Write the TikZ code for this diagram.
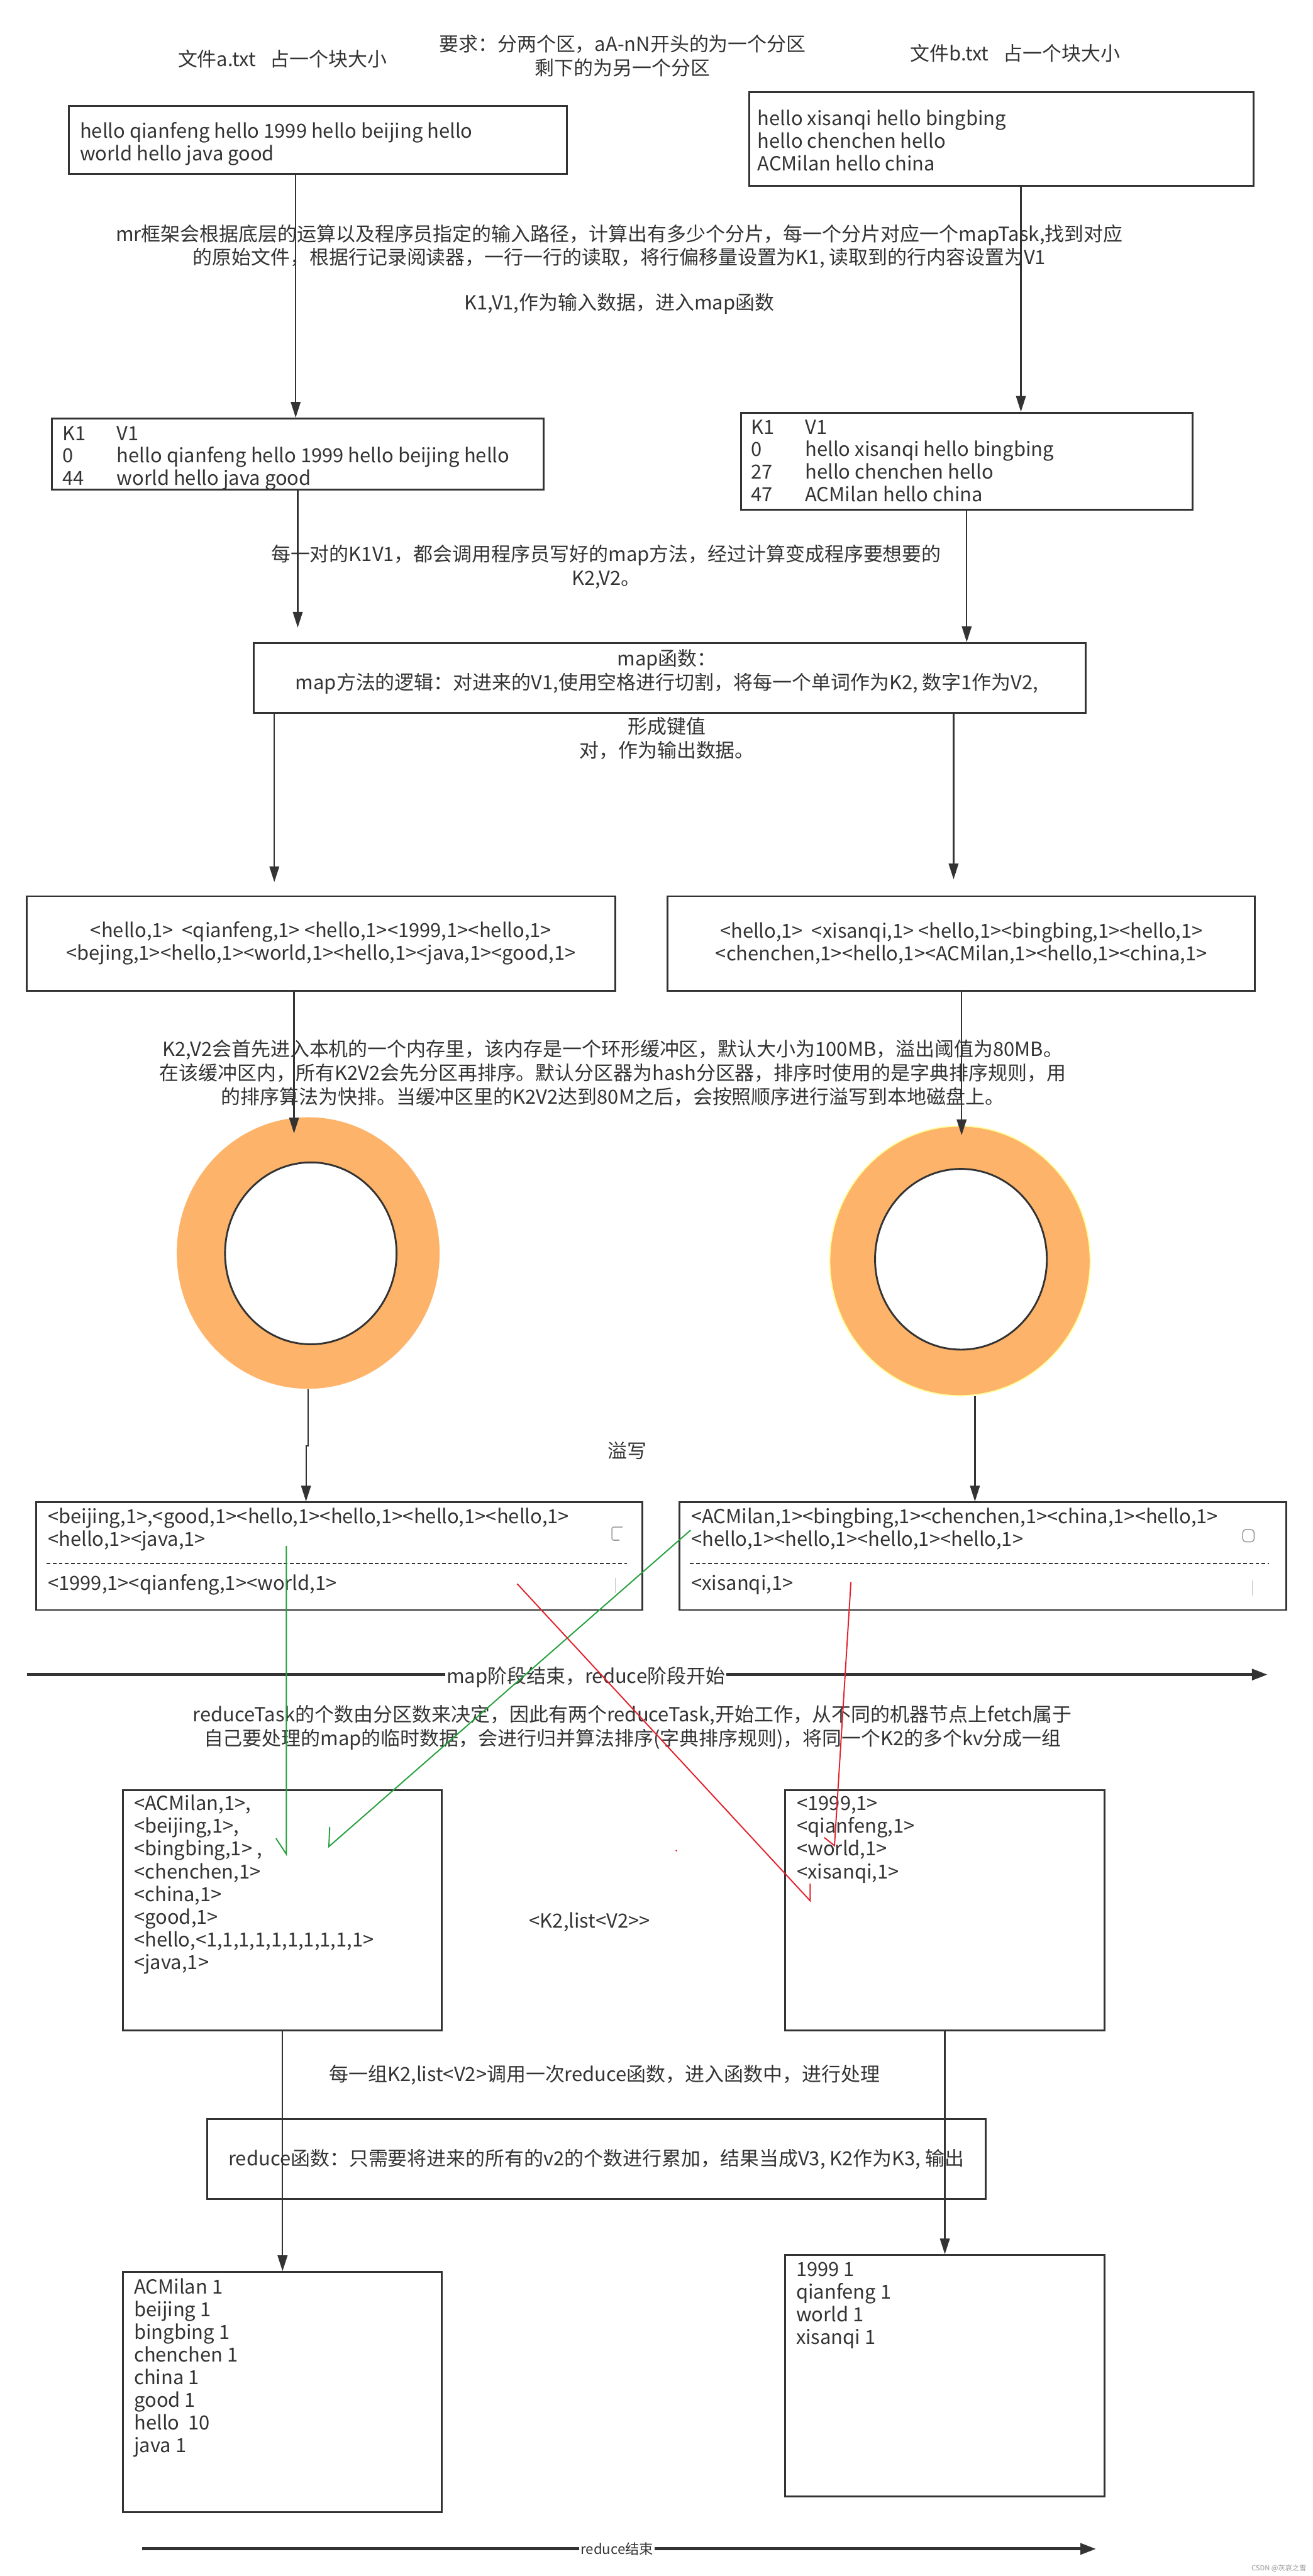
\documentclass[tikz,border=0pt]{standalone}
\usepackage{fontspec}
\setmainfont{Noto Sans CJK SC}
\usetikzlibrary{arrows.meta,positioning,calc,shapes.geometric}
\definecolor{mrink}{HTML}{333333}
\definecolor{mrorange}{HTML}{FDB46A}
\definecolor{mrpale}{HTML}{FFFF99}
\definecolor{mrgreen}{HTML}{22A03C}
\definecolor{mrred}{HTML}{E3202A}
\definecolor{mrmute}{HTML}{9A9A9A}
\newcommand\upx{1.3507pt}
\tikzset{
  box/.style={draw=mrink, line width=1.5pt, inner sep=0pt, align=center, text=mrink, font=\fontsize{16}{18.7}\selectfont},
  frm/.style 2 args={box, minimum width=#1*\upx, minimum height=#2*\upx},
  txt/.style={align=center, inner sep=0pt, text=mrink, font=\fontsize{16}{19.6}\selectfont},
  kvrow/.style={anchor=base west, inner sep=0pt, text=mrink, font=\fontsize{16}{18.7}\selectfont},
  arr/.style={-{Triangle[length=13pt,width=8pt]}, line width=1.2pt, draw=mrink},
  stage/.style={-{Triangle[length=13pt,width=9pt]}, line width=2.6pt, draw=mrink},
  plbl/.style={fill=white, inner xsep=1pt, inner ysep=1pt, text=mrink},
  ringout/.style={ellipse, fill=mrorange, inner sep=0pt},
  ringin/.style={ellipse, draw=mrink, line width=1.5pt, fill=white, inner sep=0pt},
  cutline/.style={draw=mrink, line width=1.1pt, dash pattern=on 3pt off 2pt},
  grn/.style={draw=mrgreen, line width=1pt},
  rd/.style={draw=mrred, line width=1pt},
  icon/.style={draw=mrmute, line width=0.8pt},
}
\begin{document}
\begin{tikzpicture}[x=\upx, y=-\upx]
\useasboundingbox (0,0) rectangle (799,1568);

% input files
\node[txt] (fna) at (172,36) {文件a.txt\hspace{0.75em}占一个块大小};
\node[txt] (req) at (379,34) {要求：分两个区，aA-nN开头的为一个分区\\剩下的为另一个分区};
\node[txt] (fnb) at (618,32.5) {文件b.txt\hspace{0.75em}占一个块大小};

\node[frm={303}{41.5}] (fa) at (193.5,85.25) {};
\foreach \t [count=\i from 0] in {hello qianfeng hello 1999 hello beijing hello, world hello java good}
  \node[kvrow] (fa\i) at (48.5,84+13.8*\i) {\t};
\node[frm={307}{57}] (fb) at (609.5,84.5) {};
\foreach \t [count=\i from 0] in {hello xisanqi hello bingbing, hello chenchen hello, ACMilan hello china}
  \node[kvrow] (fb\i) at (461,76.5+13.75*\i) {\t};

\node[txt] (split) at (377,150) {mr框架会根据底层的运算以及程序员指定的输入路径，计算出有多少个分片，每一个分片对应一个mapTask,找到对应\\的原始文件，根据行记录阅读器，一行一行的读取，将行偏移量设置为K1, 读取到的行内容设置为V1};
\node[txt] (kvin) at (377,185) {K1,V1,作为输入数据，进入map函数};

% K1 V1
\node[frm={299.5}{43.2}] (ka) at (181.25,276.4) {};
\foreach \k/\v [count=\i from 0] in {K1/V1, 0/hello qianfeng hello 1999 hello beijing hello, 44/world hello java good} {
  \node[kvrow] (kak\i) at (38,268.1+13.55*\i) {\k};
  \node[kvrow] (kav\i) at (71,268.1+13.55*\i) {\v};
}
\node[frm={275}{59.2}] (kb) at (588.5,280.8) {};
\foreach \k/\v [count=\i from 0] in {K1/V1, 0/hello xisanqi hello bingbing, 27/hello chenchen hello, 47/ACMilan hello china} {
  \node[kvrow] (kbk\i) at (457,264.2+13.7*\i) {\k};
  \node[kvrow] (kbv\i) at (490,264.2+13.7*\i) {\v};
}
\draw[arr] (fa.south -| 180,0) -- (ka.north -| 180,0);
\draw[arr] (fb.south -| 621.5,0) -- (kb.north -| 621.5,0);

% map function
\node[txt] (call) at (369,345) {每一对的K1V1，都会调用程序员写好的map方法，经过计算变成程序要想要的\\K2,V2。};
\node[frm={506.5}{42.6}] (mp) at (407.75,412.7) {};
\node[txt] (mpt) at (406,408.75) {map函数：\\map方法的逻辑：对进来的V1,使用空格进行切割，将每一个单词作为K2, 数字1作为V2,};
\node[txt] (mpo) at (406,449.5) {形成键值\\对，作为输出数据。};
\draw[arr] (ka.south) -- ($(mp.north -| ka.south)+(0,-8.8)$);
\draw[arr] (kb.south) -- (mp.north -| kb.south);

% K2 V2
\node[frm={358.2}{57.5}] (pa) at (195.4,574.25) {<hello,1>\ \ <qianfeng,1> <hello,1><1999,1><hello,1>\\<bejing,1><hello,1><world,1><hello,1><java,1><good,1>};
\node[frm={357.5}{57.5}] (pb) at (585.25,574.25) {<hello,1>\ \ <xisanqi,1> <hello,1><bingbing,1><hello,1>\\<chenchen,1><hello,1><ACMilan,1><hello,1><china,1>};
\draw[arr] (mp.south -| 167,0) -- ($(pa.north -| 167,0)+(0,-8)$);
\draw[arr] (mp.south -| 580.5,0) -- ($(pb.north -| 580.5,0)+(0,-9.7)$);

\node[txt] (spill) at (373,653) {K2,V2会首先进入本机的一个内存里，该内存是一个环形缓冲区，默认大小为100MB，溢出阈值为80MB。\\在该缓冲区内，所有K2V2会先分区再排序。默认分区器为hash分区器，排序时使用的是字典排序规则，用\\的排序算法为快排。当缓冲区里的K2V2达到80M之后，会按照顺序进行溢写到本地磁盘上。};

% ring buffers
\node[ringout, minimum width=160*\upx, minimum height=165.3*\upx] (ra) at (187.6,762.7) {};
\node[ringin, minimum width=104.4*\upx, minimum height=110.7*\upx] (rai) at (189.2,762.9) {};
\node[ringout, draw=mrpale, line width=1pt, minimum width=158.6*\upx, minimum height=164.2*\upx] (rb) at (584.4,767.5) {};
\node[ringin, minimum width=104.6*\upx, minimum height=110*\upx] (rbi) at (585,766.5) {};
\draw[arr] (pa.south -| 179,0) -- ($(ra.north -| 179,0)+(0,10)$);
\draw[arr] (pb.south -| 585.4,0) -- ($(rb.north -| 585.4,0)+(0,6)$);

\node[txt] (spw) at (382,883) {溢写};

% spill files
\node[frm={369}{65.5}] (sa) at (206.5,947.25) {};
\node[kvrow] (sa0) at (29,927.5) {<beijing,1>,<good,1><hello,1><hello,1><hello,1><hello,1>};
\node[kvrow] (sa1) at (29,941) {<hello,1><java,1>};
\node[kvrow] (sa2) at (29,968) {<1999,1><qianfeng,1><world,1>};
\draw[cutline] ($(sa.west)+(7,4.35)$) -- ($(sa.east)+(-10,4.35)$);
\node[frm={369.4}{65.5}] (sb) at (598.3,947.25) {};
\node[kvrow] (sb0) at (420.6,927.5) {<ACMilan,1><bingbing,1><chenchen,1><china,1><hello,1>};
\node[kvrow] (sb1) at (420.6,941) {<hello,1><hello,1><hello,1><hello,1>};
\node[kvrow] (sb2) at (420.6,968) {<xisanqi,1>};
\draw[cutline] ($(sb.west)+(7,4.35)$) -- ($(sb.east)+(-11,4.35)$);
\draw[icon, rounded corners=1.5pt] (379,929.5) -- (372.5,929.5) -- (372.5,937.5) -- (377,937.5);
\draw[icon, rounded corners=3pt] (756.5,931) rectangle (763.5,938.5);
\draw[draw=mrmute!60, line width=0.6pt] (374.5,960.5) -- (374.5,969.5);
\draw[draw=mrmute!60, line width=0.6pt] (762.5,962) -- (762.5,971);
\draw[arr] (ra.south) -- ++(0,34.7) -| (sa.north -| 186.3,0);
\draw[arr] (rb.south -| 593.5,0) -- (sb.north -| 593.5,0);

% map / reduce boundary
\coordinate (mapend0) at (16.3,1019.3);
\coordinate (mapend1) at (771.7,1019.3);
\draw[stage] (mapend0) -- (mapend1) node[plbl, pos=0.4505, yshift=-2pt, font=\fontsize{16}{19.6}\selectfont] (mapend) {map阶段结束，reduce阶段开始};

\node[txt] (fetch) at (385,1051.5) {reduceTask的个数由分区数来决定，因此有两个reduceTask,开始工作，从不同的机器节点上fetch属于\\自己要处理的map的临时数据，会进行归并算法排序(字典排序规则)，将同一个K2的多个kv分成一组};

% grouped input of the reduce tasks
\node[frm={194}{146.4}] (gl) at (172,1162.8) {};
\foreach \t [count=\i from 0] in {{<ACMilan,1>,},{<beijing,1>,},{<bingbing,1> ,},{<chenchen,1>},{<china,1>},{<good,1>},{<hello,<1,1,1,1,1,1,1,1,1,1>},{<java,1>}}
  \node[kvrow] (gl\i) at (81.5,1101.9+13.85*\i) {\t};
\node[frm={194.4}{146.4}] (gr) at (575.2,1162.8) {};
\foreach \t [count=\i from 0] in {{<1999,1>},{<qianfeng,1>},{<world,1>},{<xisanqi,1>}}
  \node[kvrow] (gr\i) at (485,1101.9+13.85*\i) {\t};
\node[txt] (grp) at (359,1170) {<K2,list<V2>{}>};

% fetch paths
\coordinate (g1s) at (174.3,941);   \coordinate (g1e) at (174.3,1128.6);
\coordinate (g2s) at (420.4,931.4); \coordinate (g2e) at (200.2,1124);
\coordinate (r1s) at (314.8,964);   \coordinate (r1e) at (493.2,1157);
\coordinate (r2s) at (518,963);     \coordinate (r2e) at (508,1123.4);
\draw[grn] (g1s) -- (g1e) -- ++(-6.3,-9.6);
\draw[grn] (g2s) -- (g2e) -- ++(0.5,-12);
\draw[rd] (r1s) -- (r1e) -- ++(0,-10.4);
\draw[rd] (r2s) -- (r2e) -- ++(-6.2,-4.9);
\fill[mrred] (411.7,1126.5) circle (0.7pt);

% reduce function
\node[txt] (each) at (368,1263) {每一组K2,list<V2>调用一次reduce函数，进入函数中，进行处理};
\node[frm={474}{48.5}] (rf) at (363,1314.25) {reduce函数：只需要将进来的所有的v2的个数进行累加，结果当成V3, K2作为K3, 输出};

\node[frm={194}{146}] (outl) at (172,1456) {};
\foreach \t [count=\i from 0] in {ACMilan 1, beijing 1, bingbing 1, chenchen 1, china 1, good 1, hello\ \ 10, java 1}
  \node[kvrow] (outl\i) at (81.5,1396.1+13.8*\i) {\t};
\node[frm={194.4}{146.8}] (outr) at (575.2,1446.1) {};
\foreach \t [count=\i from 0] in {1999 1, qianfeng 1, world 1, xisanqi 1}
  \node[kvrow] (outr\i) at (484.5,1385.5+13.8*\i) {\t};
\draw[arr] (gl.south) -- (outl.north);
\draw[arr] (gr.south) -- (outr.north);

\coordinate (redend0) at (86.6,1551.5);
\coordinate (redend1) at (667.3,1551.5);
\draw[stage] (redend0) -- (redend1) node[plbl, pos=0.4977, font=\fontsize{11.5}{13}\selectfont] (redend) {reduce结束};

\node[anchor=east, inner sep=0pt, text=mrmute, font=\fontsize{5.8}{7}\selectfont] (mark) at (795.4,1563.4) {CSDN @灰哀之雪};
\end{tikzpicture}
\end{document}
